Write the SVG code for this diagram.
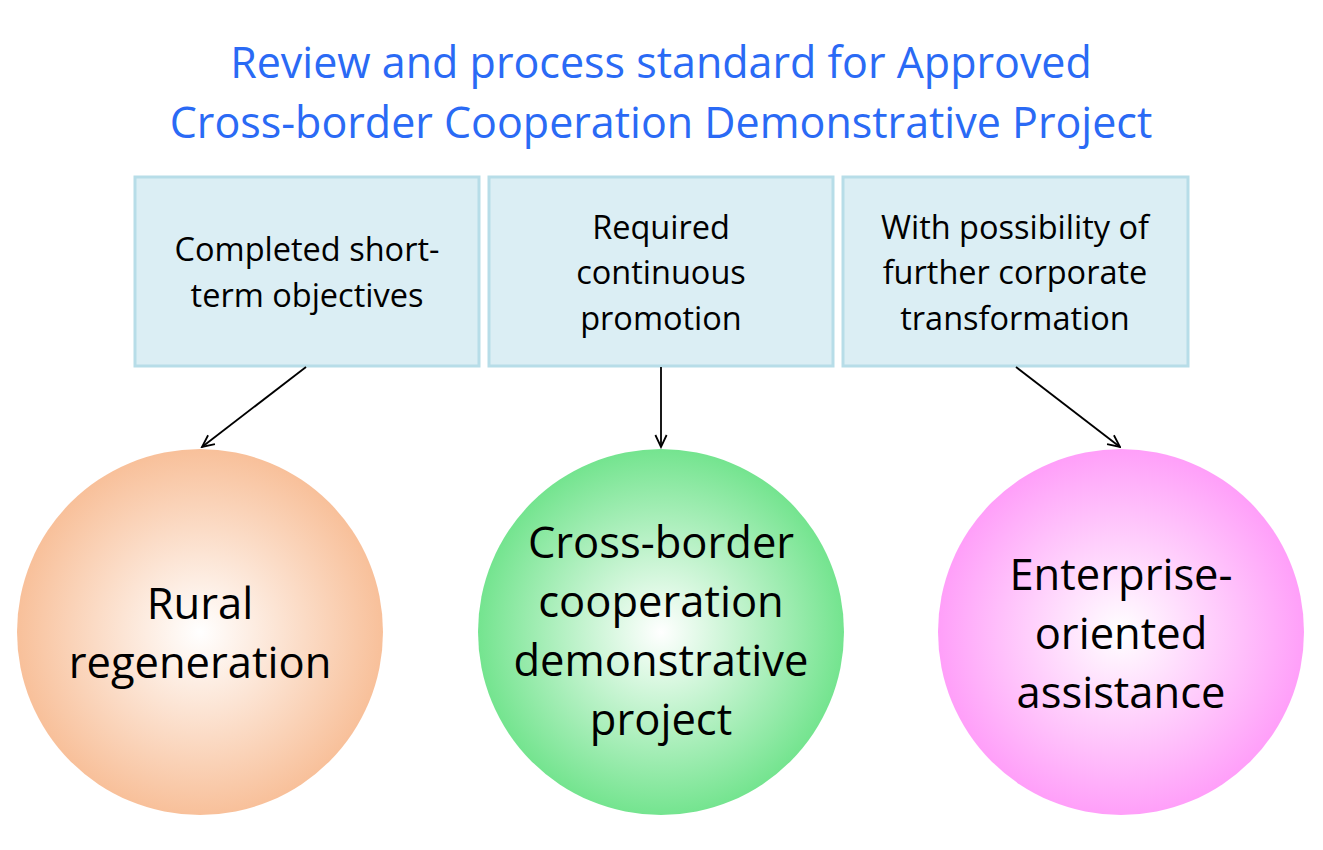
<svg xmlns="http://www.w3.org/2000/svg" width="1323" height="850" viewBox="0 0 1323 850">
<style>
.title{font-family:"Open Sans","Liberation Sans",sans-serif;font-size:43px;fill:#2a6af5;text-anchor:middle}
.box{fill:#dbeef4;stroke:#b7dde8;stroke-width:3}
.bt{font-family:"Open Sans","Liberation Sans",sans-serif;font-size:32.5px;fill:#000;text-anchor:middle}
.ct{font-family:"Open Sans","Liberation Sans",sans-serif;font-size:43.5px;fill:#000;text-anchor:middle}
.conn{stroke:#000;stroke-width:1.8;fill:none;marker-end:url(#arr)}
</style>
<defs>
<marker id="arr" viewBox="0 0 20 20" refX="18" refY="10" markerWidth="15" markerHeight="15" markerUnits="userSpaceOnUse" orient="auto">
<path d="M2,2.5 L18,10 L2,17.5" fill="none" stroke="#000" stroke-width="2.4"/>
</marker>
<radialGradient id="gO" cx="0.5" cy="0.5" r="0.5"><stop offset="0" stop-color="#ffffff"/><stop offset="1" stop-color="#f8c09a"/></radialGradient>
<radialGradient id="gG" cx="0.5" cy="0.5" r="0.5"><stop offset="0" stop-color="#ffffff"/><stop offset="1" stop-color="#74e48f"/></radialGradient>
<radialGradient id="gP" cx="0.5" cy="0.5" r="0.5"><stop offset="0" stop-color="#ffffff"/><stop offset="1" stop-color="#ff9ff9"/></radialGradient>
</defs>
<rect width="1323" height="850" fill="#fff"/>
<g id="title">
<text class="title" x="661" y="78">Review and process standard for Approved</text>
<text class="title" x="661" y="138">Cross-border Cooperation Demonstrative Project</text>
</g>
<g id="box1"><rect class="box" x="135" y="177" width="344" height="189"/>
<text class="bt" x="307" y="261">Completed short-</text><text class="bt" x="307" y="307">term objectives</text></g>
<g id="box2"><rect class="box" x="489" y="177" width="344" height="189"/>
<text class="bt" x="661" y="239">Required</text><text class="bt" x="661" y="284">continuous</text><text class="bt" x="661" y="330">promotion</text></g>
<g id="box3"><rect class="box" x="843" y="177" width="345" height="189"/>
<text class="bt" x="1015" y="239">With possibility of</text><text class="bt" x="1015" y="284">further corporate</text><text class="bt" x="1015" y="330">transformation</text></g>
<g id="connectors">
<line class="conn" x1="306" y1="367" x2="202" y2="447"/>
<line class="conn" x1="661" y1="367" x2="661" y2="447"/>
<line class="conn" x1="1016" y1="367" x2="1120" y2="447"/>
</g>
<g id="c1"><circle cx="200" cy="632" r="183" fill="url(#gO)"/>
<text class="ct" x="200" y="619">Rural</text><text class="ct" x="200" y="678">regeneration</text></g>
<g id="c2"><circle cx="661" cy="632" r="183" fill="url(#gG)"/>
<text class="ct" x="661" y="558">Cross-border</text><text class="ct" x="661" y="617">cooperation</text><text class="ct" x="661" y="676">demonstrative</text><text class="ct" x="661" y="735">project</text></g>
<g id="c3"><circle cx="1121" cy="632" r="183" fill="url(#gP)"/>
<text class="ct" x="1121" y="590">Enterprise-</text><text class="ct" x="1121" y="649">oriented</text><text class="ct" x="1121" y="708">assistance</text></g>
</svg>
